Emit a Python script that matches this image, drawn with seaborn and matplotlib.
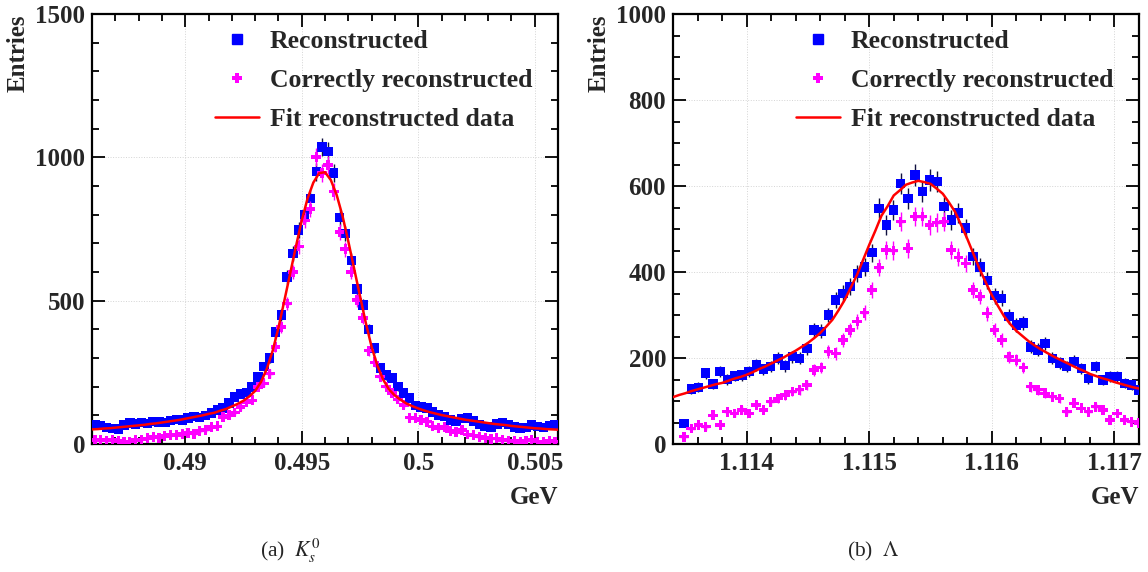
import numpy as np
import matplotlib
matplotlib.use("Agg")
import matplotlib.pyplot as plt
import seaborn as sns
from matplotlib.ticker import FixedLocator, FixedFormatter, MultipleLocator
from matplotlib.lines import Line2D

# ---------------- data: K_s^0 panel ----------------
ks_xlim = (0.486, 0.506)
ks_centers_range = (0.486125, 0.505875)   # 80 bin centres
ks_reco = [66, 64, 58, 55, 52, 66, 73, 70, 75, 72, 79, 77, 74, 82, 86, 84, 91, 95, 93, 99,
           108, 119, 125, 143, 164, 175, 180, 199, 234, 270, 300, 390, 450, 583, 665, 746, 800, 857, 950, 1036,
           1020, 945, 790, 735, 640, 540, 485, 400, 335, 265, 240, 230, 200, 178, 160, 135, 129, 126, 112, 101,
           95, 84, 78, 88, 91, 80, 68, 62, 60, 70, 74, 68, 60, 56, 58, 66, 62, 58, 64, 66]
ks_correct = [14, 16, 12, 14, 10, 7, 9, 14, 16, 20, 24, 22, 28, 31, 30, 35, 38, 36, 46, 50,
              59, 62, 94, 100, 110, 129, 145, 153, 199, 212, 245, 338, 408, 490, 600, 690, 780, 820, 1001, 945,
              973, 880, 740, 680, 600, 502, 440, 325, 285, 235, 200, 178, 155, 136, 92, 90, 84, 78, 62, 56,
              59, 45, 42, 49, 33, 30, 25, 21, 18, 20, 14, 12, 10, 7, 12, 14, 9, 7, 11, 8]
ks_fit = [51, 52, 54, 55, 57, 59, 61, 63, 65, 67, 70, 72, 75, 78, 81, 84, 88, 92, 96, 100,
          105, 109, 116, 122, 131, 140, 151, 166, 185, 216, 262, 324, 405, 498, 593, 688, 779, 856, 912, 945,
          948, 921, 869, 796, 707, 612, 517, 423, 339, 273, 224, 190, 169, 154, 141, 132, 124, 117, 111, 106,
          101, 97, 93, 89, 85, 82, 79, 76, 73, 70, 68, 66, 63, 61, 59, 57, 55, 54, 52, 51, 50]
ks_xticks = [0.49, 0.495, 0.5, 0.505]
ks_xticklabels = ["0.49", "0.495", "0.5", "0.505"]
ks_yticks = [0, 500, 1000, 1500]
ks_yticklabels = ["0", "500", "1000", "1500"]

# ---------------- data: Lambda panel ----------------
lam_xlim = (1.1134, 1.1172)
lam_centers_range = (1.11349, 1.1172)     # 64 bin centres
lam_reco = [48, 128, 132, 165, 140, 168, 150, 158, 160, 168, 184, 174, 180, 199, 182, 203, 199, 222, 265, 262,
            300, 335, 350, 366, 397, 412, 445, 548, 509, 544, 606, 571, 626, 587, 614, 610, 552, 521, 537, 502,
            436, 412, 380, 345, 339, 296, 277, 281, 226, 219, 234, 199, 188, 180, 192, 175, 153, 180, 149, 157,
            157, 141, 137, 126]
lam_correct = [17, 36, 44, 40, 67, 44, 75, 71, 79, 71, 91, 79, 98, 106, 114, 122, 126, 137, 172, 178,
               215, 211, 242, 265, 285, 305, 358, 410, 451, 450, 517, 455, 529, 529, 509, 515, 517, 451, 434, 420,
               358, 343, 304, 265, 242, 203, 195, 178, 133, 126, 118, 110, 106, 75, 95, 83, 75, 87, 79, 56,
               71, 56, 52, 48]
lam_fit = [109, 114, 118, 123, 127, 131, 135, 139, 142, 147, 152, 156, 161, 167, 174, 180, 187, 194, 201, 209,
           217, 226, 235, 246, 258, 273, 289, 311, 335, 364, 393, 428, 463, 496, 531, 553, 578, 590, 603, 608,
           612, 609, 605, 594, 582, 562, 540, 509, 477, 442, 407, 376, 346, 321, 297, 279, 263, 251, 239, 229,
           220, 212, 204, 197, 190, 183, 176, 170, 163, 158, 153, 149, 144, 140, 136, 132, 129]
lam_xticks = [1.114, 1.115, 1.116, 1.117]
lam_xticklabels = ["1.114", "1.115", "1.116", "1.117"]
lam_yticks = [0, 200, 400, 600, 800, 1000]
lam_yticklabels = ["0", "200", "400", "600", "800", "1000"]

legend_labels = ["Reconstructed", "Correctly reconstructed", "Fit reconstructed data"]
captions = ["(a)  $K_s^0$", "(b)  $\\Lambda$"]

BLUE = "#0000ff"
MAGENTA = "#ff00ff"
RED = "#ff0000"

sns.set_theme(style="white")
plt.rcParams["font.family"] = ["Liberation Serif", "DejaVu Serif"]
plt.rcParams["mathtext.fontset"] = "stix"

fig = plt.figure(figsize=(11.48, 5.72), dpi=100)
W, H = 1148, 572
ax1 = fig.add_axes([92 / W, 1 - 444 / H, 466 / W, 430 / H])
ax2 = fig.add_axes([673 / W, 1 - 444 / H, 466 / W, 430 / H])

bold = {"family": "Liberation Serif", "weight": "bold", "size": 18}


def draw_panel(ax, xlim, crange, reco, correct, fit, ylim, xt, xtl, yt, ytl,
               xminor, yminor):
    reco = np.asarray(reco, float)
    correct = np.asarray(correct, float)
    n = len(reco)
    xc = np.linspace(crange[0], crange[1], n)
    hw = (xc[1] - xc[0]) / 2
    xf = np.linspace(xlim[0], xlim[1], len(fit))

    ax.errorbar(xc, reco, yerr=np.sqrt(reco), xerr=hw, fmt="none",
                ecolor="#101040", elinewidth=1.0, capsize=0, zorder=2)
    sns.scatterplot(x=xc, y=reco, marker="s", s=46, color=BLUE, edgecolor="none",
                    linewidth=0, ax=ax, zorder=3, legend=False)
    ax.errorbar(xc, correct, yerr=np.sqrt(correct), xerr=hw, fmt="none",
                ecolor=MAGENTA, elinewidth=1.0, capsize=0, zorder=4)
    sns.scatterplot(x=xc, y=correct, marker="P", s=50, color=MAGENTA, edgecolor="none",
                    linewidth=0, ax=ax, zorder=5, legend=False)
    sns.lineplot(x=xf, y=fit, color=RED, lw=1.8, ax=ax, zorder=6, legend=False)

    ax.set_xlim(*xlim)
    ax.set_ylim(*ylim)
    ax.xaxis.set_major_locator(FixedLocator(xt))
    ax.xaxis.set_major_formatter(FixedFormatter(xtl))
    ax.yaxis.set_major_locator(FixedLocator(yt))
    ax.yaxis.set_major_formatter(FixedFormatter(ytl))
    ax.xaxis.set_minor_locator(MultipleLocator(xminor))
    ax.yaxis.set_minor_locator(MultipleLocator(yminor))
    ax.tick_params(which="both", direction="in", top=True, right=True,
                   bottom=True, left=True, width=1.3, color="black")
    ax.tick_params(which="major", length=9.5)
    ax.tick_params(which="minor", length=4.8)
    ax.tick_params(axis="x", which="major", pad=6)
    ax.tick_params(axis="y", which="major", pad=5)
    for lab in ax.get_xticklabels() + ax.get_yticklabels():
        lab.set_fontproperties(bold)
    for sp in ax.spines.values():
        sp.set_linewidth(1.6)
        sp.set_color("black")
    ax.grid(True, which="major", color="#d4d4d4", lw=0.7, ls=":")
    ax.set_axisbelow(True)

    ax.set_ylabel("Entries", fontdict=bold)
    ax.yaxis.set_label_coords(-0.134, 1.0)
    ax.yaxis.label.set_horizontalalignment("right")
    ax.set_xlabel("GeV", fontdict=bold)
    ax.xaxis.set_label_coords(1.0, -0.098)
    ax.xaxis.label.set_horizontalalignment("right")
    ax.xaxis.label.set_verticalalignment("top")

    handles = [Line2D([], [], marker="s", ls="none", color=BLUE, markersize=7),
               Line2D([], [], marker="P", ls="none", color=MAGENTA, markersize=7,
                      markeredgewidth=0),
               Line2D([], [], color=RED, lw=1.8)]
    ax.legend(handles, legend_labels, loc="upper left", bbox_to_anchor=(0.264, 0.962),
              frameon=False, prop={"family": "Liberation Serif", "weight": "bold", "size": 18.5},
              handlelength=1.7, handletextpad=0.43, labelspacing=0.62, borderpad=0,
              borderaxespad=0)


draw_panel(ax1, ks_xlim, ks_centers_range, ks_reco, ks_correct, ks_fit, (0, 1500),
           ks_xticks, ks_xticklabels, ks_yticks, ks_yticklabels, 0.001, 100)
draw_panel(ax2, lam_xlim, lam_centers_range, lam_reco, lam_correct, lam_fit, (0, 1000),
           lam_xticks, lam_xticklabels, lam_yticks, lam_yticklabels, 0.0002, 50)

fig.text(290 / W, 1 - 551 / H, captions[0], ha="center", va="center",
         fontsize=15.5, family="Liberation Serif")
fig.text(873 / W, 1 - 551 / H, captions[1], ha="center", va="center",
         fontsize=15.5, family="Liberation Serif")

fig.savefig("out.png", dpi=100)
